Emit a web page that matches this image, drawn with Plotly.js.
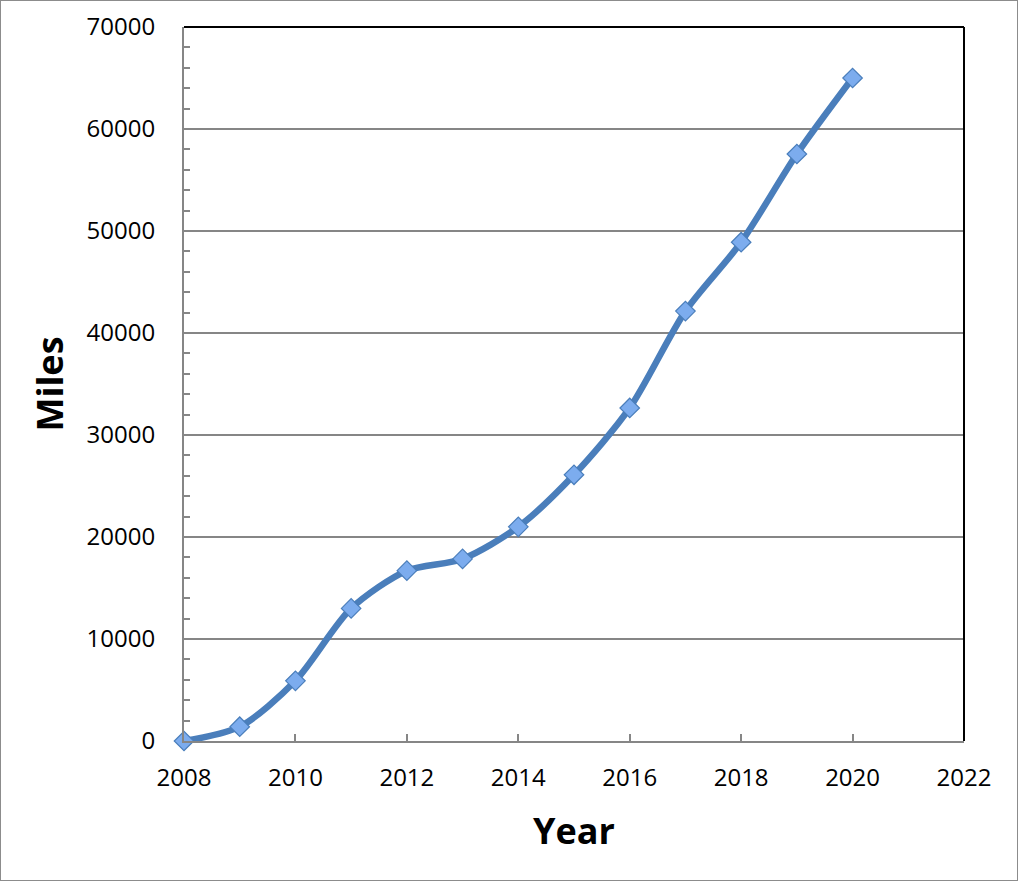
<!DOCTYPE html>
<html>
<head>
<meta charset="utf-8">
<script src="https://cdn.plot.ly/plotly-3.0.1.min.js"></script>
<style>
html,body{margin:0;padding:0;background:#fff;}
#chart{width:1016px;height:879px;border:1px solid #8c8c8c;}
</style>
</head>
<body>
<div id="chart"></div>
<script>
const years = [2008, 2009, 2010, 2011, 2012, 2013, 2014, 2015, 2016, 2017, 2018, 2019, 2020];
const miles = [0, 1400, 5900, 13000, 16700, 17850, 21000, 26100, 32650, 42150, 48900, 57550, 65000];
const xTickVals = [2008, 2010, 2012, 2014, 2016, 2018, 2020, 2022];
const yTickVals = [0, 10000, 20000, 30000, 40000, 50000, 60000, 70000];

const font = "Open Sans, Lato, Liberation Sans, sans-serif";

const trace = {
  x: years, y: miles, type: 'scatter', mode: 'lines+markers',
  cliponaxis: false,
  line: {color: '#4a7ebb', width: 6.5, shape: 'spline', smoothing: 0.8},
  marker: {symbol: 'diamond', size: 15, color: '#7cacee', line: {color: '#4a7ebb', width: 1.2}},
  hoverinfo: 'skip'
};

const layout = {
  width: 1016, height: 879,
  margin: {l: 183, r: 53, t: 26, b: 139},
  paper_bgcolor: '#fff', plot_bgcolor: '#fff',
  showlegend: false,
  font: {family: font, color: '#000', size: 24},
  xaxis: {
    range: [2008, 2022], tickvals: xTickVals, ticktext: xTickVals.map(String),
    showgrid: false, zeroline: false, showline: true, linecolor: '#868686', linewidth: 2,
    ticks: 'inside', ticklen: 7, tickcolor: '#868686', tickwidth: 2,
    tickfont: {family: font, size: 24, color: '#000'},
    ticklabelstandoff: 14,
    title: {text: '<b>Year</b>', font: {family: font, size: 36, color: '#000'}, standoff: 27},
    mirror: false, automargin: false
  },
  yaxis: {
    range: [0, 70000], tickvals: yTickVals, ticktext: yTickVals.map(String),
    showgrid: true, gridcolor: '#868686', gridwidth: 1.5, zeroline: false,
    showline: true, linecolor: '#868686', linewidth: 2,
    ticks: 'inside', ticklen: 6, tickcolor: '#868686', tickwidth: 2,
    tickfont: {family: font, size: 24, color: '#000'},
    ticklabelstandoff: 22,
    minor: {dtick: 2000, tick0: 0, ticks: 'inside', ticklen: 6, tickcolor: '#868686', tickwidth: 2, showgrid: false},
    title: {text: '<b>Miles</b>', font: {family: font, size: 36, color: '#000'}, standoff: 12},
    automargin: false
  },
  shapes: [
    {type: 'line', xref: 'paper', yref: 'paper', x0: 0, x1: 1, y0: 1, y1: 1, line: {color: '#000', width: 2}},
    {type: 'line', xref: 'paper', yref: 'paper', x0: 1, x1: 1, y0: 0, y1: 1, line: {color: '#000', width: 2}}
  ]
};

Plotly.newPlot('chart', [trace], layout, {displayModeBar: false, staticPlot: true});
</script>
</body>
</html>
